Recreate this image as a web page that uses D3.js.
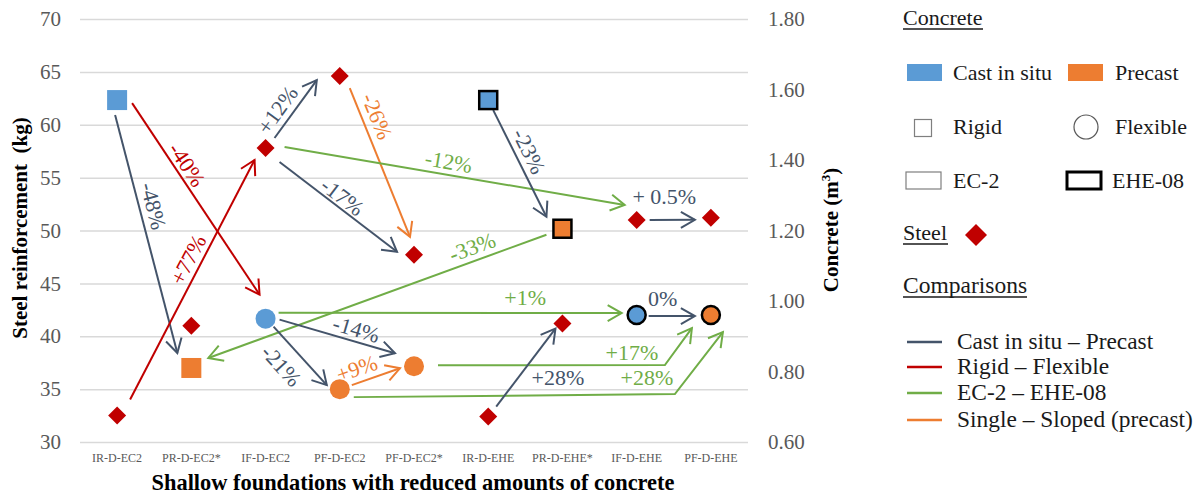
<!DOCTYPE html>
<html><head><meta charset="utf-8">
<script src="https://cdn.jsdelivr.net/npm/d3@7"></script>
</head>
<body style="margin:0">
<svg id="chart" width="1199" height="497"></svg>
<script>
// ---------- data ----------
const categories = ["IR-D-EC2","PR-D-EC2*","IF-D-EC2","PF-D-EC2","PF-D-EC2*","IR-D-EHE","PR-D-EHE*","IF-D-EHE","PF-D-EHE"];
const concrete = [1.57, 0.81, 0.95, 0.75, 0.815, 1.57, 1.205, 0.96, 0.96];   // m3 (right axis)
const steel    = [32.5, 41.0, 57.8, 64.6, 47.7, 32.4, 41.2, 51.0, 51.2];     // kg (left axis)
const construction = ["Cast in situ","Precast","Cast in situ","Precast","Precast","Cast in situ","Precast","Cast in situ","Precast"];
const footing = ["Rigid","Rigid","Flexible","Flexible","Flexible","Rigid","Rigid","Flexible","Flexible"];
const designCode = ["EC-2","EC-2","EC-2","EC-2","EC-2","EHE-08","EHE-08","EHE-08","EHE-08"];
const leftTicks = [30,35,40,45,50,55,60,65,70];
const rightTicks = [0.6,0.8,1.0,1.2,1.4,1.6,1.8];
const comparisonKinds = ["Cast in situ – Precast","Rigid – Flexible","EC-2 – EHE-08","Single – Sloped (precast)"];
// comparison arrows: c = concrete point, s = steel point (index into categories)
const comparisons = [
  {from:"c0", to:"c1", kind:0, label:"-48%"},
  {from:"c0", to:"c2", kind:1, label:"-40%"},
  {from:"s0", to:"s2", kind:1, label:"+77%"},
  {from:"s2", to:"s3", kind:0, label:"+12%"},
  {from:"s3", to:"s4", kind:3, label:"-26%"},
  {from:"s2", to:"s4", kind:0, label:"-17%"},
  {from:"s2", to:"s7", kind:2, label:"-12%"},
  {from:"c6", to:"c1", kind:2, label:"-33%"},
  {from:"c2", to:"c7", kind:2, label:"+1%"},
  {from:"c2", to:"c4", kind:0, label:"-14%"},
  {from:"c2", to:"c3", kind:0, label:"-21%"},
  {from:"c3", to:"c4", kind:3, label:"+9%"},
  {from:"c5", to:"c6", kind:0, label:"-23%"},
  {from:"s7", to:"s8", kind:0, label:"+ 0.5%"},
  {from:"c7", to:"c8", kind:0, label:"0%"},
  {from:"c4", to:"c8", kind:2, label:"+17%"},
  {from:"c3", to:"c8", kind:2, label:"+28%"},
  {from:"s5", to:"s6", kind:0, label:"+28%"}
];

// ---------- layout (pixel nudges of arrows relative to the points they link) ----------
const arrowLayout = [
  {s:[-2,15],  e:[-14,-15], lab:[7,-28]},
  {s:[15,3],   e:[-6,-24],  lab:[-9,-34]},
  {s:[13,-16], e:[-11,12],  lab:[-4,-20]},
  {s:[9,-10],  e:[-23,4],   lab:[-18,1]},
  {s:[10,12],  e:[-4,-18],  lab:[-3,-46]},
  {s:[14,14],  e:[-17,-3],  lab:[4,-10]},
  {s:[19,-1],  e:[-12,-15], lab:[-6,-14]},
  {s:[-16,6],  e:[17,-10],  lab:[95,-49]},
  {s:[13,-6],  e:[-15,-2],  lab:[75,-15], flat:true},
  {s:[14,1],   e:[-19,-13], lab:[19,-7]},
  {s:[8,8],    e:[-13,-4],  lab:[-19,10]},
  {s:[12,-4],  e:[-14,2],   lab:[-19,-8]},
  {s:[5,10],   e:[-16,-12], lab:[9,-12]},
  {s:[13,0],   e:[-16,2],   lab:[-8,-23], flat:true},
  {s:[12,1],   e:[-16,1],   lab:[-9,-17], flat:true},
  {s:[24,-1],  e:[-19,13],  via:[-46,50], lab:[-33,-12], flat:true},
  {s:[14,8],   e:[12,17],   via:[-36,79], lab:[-28,-16], flat:true},
  {s:[8,-10],  e:[-7,5],    lab:[32,10], flat:true}
];
const kindColor = ["#44546A","#C00000","#70AD47","#ED7D31"];
const constrColor = {"Cast in situ":"#5B9BD5","Precast":"#ED7D31"};
const steelColor = "#C00000";
const SERIF = "Liberation Serif";

const svg = d3.select("#chart");
const plot = {left:80, right:748, top:19, bottom:442};
const x = d3.scaleBand().domain(categories).range([plot.left, plot.right]);
const cx = c => x(c) + x.bandwidth()/2;
const yL = d3.scaleLinear().domain([30,70]).range([plot.bottom, plot.top]);
const yR = d3.scaleLinear().domain([0.6,1.8]).range([plot.bottom, plot.top]);

function fontify(sel, size){
  return sel.attr("font-family",SERIF).style("font-family",SERIF).attr("font-size",size);
}

// ---------- axes ----------
const gL = svg.append("g").attr("transform",`translate(${plot.left},0)`)
  .call(d3.axisLeft(yL).tickValues(leftTicks).tickSize(-(plot.right-plot.left)).tickPadding(19));
gL.select(".domain").remove();
gL.selectAll("line").attr("stroke","#D9D9D9").attr("stroke-width",1.5);
fontify(gL, 21); fontify(gL.selectAll("text"), 21).attr("fill","#595959");

const gR = svg.append("g").attr("transform",`translate(${plot.right},0)`)
  .call(d3.axisRight(yR).tickValues(rightTicks).tickSize(0).tickPadding(20).tickFormat(d3.format(".2f")));
gR.select(".domain").remove();
fontify(gR, 21); fontify(gR.selectAll("text"), 21).attr("fill","#595959");

const gX = svg.append("g").attr("transform",`translate(0,${plot.bottom})`)
  .call(d3.axisBottom(x).tickSize(0).tickPadding(11.5));
gX.select(".domain").remove();
fontify(gX, 12); fontify(gX.selectAll("text"), 12).attr("fill","#595959");

function txt(sel, size){ return fontify(sel.append("text"), size); }

txt(svg, 21).attr("transform","translate(27,228) rotate(-90)").attr("text-anchor","middle")
  .attr("font-weight","bold").attr("fill","#000").text("Steel reinforcement\u00a0 (kg)");
const rt = txt(svg, 21).attr("transform","translate(838,230) rotate(-90)").attr("text-anchor","middle")
  .attr("font-weight","bold").attr("fill","#000");
rt.append("tspan").text("Concrete (m");
rt.append("tspan").attr("font-size",13).attr("dy",-8).text("3");
rt.append("tspan").attr("dy",8).text(")");
txt(svg, 22.4).attr("x",413).attr("y",490).attr("text-anchor","middle")
  .attr("font-weight","bold").attr("fill","#000")
  .text("Shallow foundations with reduced amounts of concrete");

// ---------- arrows ----------
function anchor(ref){
  const t = ref[0], i = +ref.slice(1);
  return [cx(categories[i]), t === "c" ? yR(concrete[i]) : yL(steel[i])];
}
const gA = svg.append("g");
comparisons.forEach((cmp, k) => {
  const L = arrowLayout[k];
  const a = anchor(cmp.from), b = anchor(cmp.to);
  const p0 = [a[0]+L.s[0], a[1]+L.s[1]];
  const p1 = [b[0]+L.e[0], b[1]+L.e[1]];
  const pts = [p0];
  let ref;
  if (L.via) { const v = [b[0]+L.via[0], b[1]+L.via[1]]; pts.push(v); ref = v; }
  else ref = [(p0[0]+p1[0])/2, (p0[1]+p1[1])/2];
  pts.push(p1);
  const col = kindColor[cmp.kind];
  gA.append("path").attr("d", d3.line()(pts)).attr("fill","none").attr("stroke",col).attr("stroke-width",2);
  const q = pts[pts.length-2];
  const dx = p1[0]-q[0], dy = p1[1]-q[1], len = Math.hypot(dx,dy);
  const ux = dx/len, uy = dy/len, nx = -uy, ny = ux, H = 14, W = 8;
  gA.append("path").attr("d", d3.line()([[p1[0]-H*ux+W*nx, p1[1]-H*uy+W*ny], p1, [p1[0]-H*ux-W*nx, p1[1]-H*uy-W*ny]]))
    .attr("fill","none").attr("stroke",col).attr("stroke-width",2).attr("stroke-linejoin","miter");
  let ang = Math.atan2(p1[1]-p0[1], p1[0]-p0[0]) * 180/Math.PI;
  if (ang > 90) ang -= 180; if (ang < -90) ang += 180;
  if (L.flat) ang = 0;
  const lx = ref[0]+L.lab[0], ly = ref[1]+L.lab[1];
  txt(gA, 22).attr("transform",`translate(${lx},${ly}) rotate(${ang})`)
    .attr("text-anchor","middle").attr("dy","0.33em")
    .attr("fill",col).text(cmp.label);
});

// ---------- markers ----------
const gM = svg.append("g");
categories.forEach((c, i) => {
  const px = cx(c), py = yR(concrete[i]);
  const ehe = designCode[i] === "EHE-08";
  const fill = constrColor[construction[i]];
  if (footing[i] === "Rigid") {
    const s = ehe ? 18 : 20;
    gM.append("rect").attr("x",px-s/2).attr("y",py-s/2).attr("width",s).attr("height",s)
      .attr("fill",fill).attr("stroke", ehe ? "#000" : "none").attr("stroke-width", ehe ? 2.5 : 0);
  } else {
    gM.append("circle").attr("cx",px).attr("cy",py).attr("r", ehe ? 9 : 10)
      .attr("fill",fill).attr("stroke", ehe ? "#000" : "none").attr("stroke-width", ehe ? 2.5 : 0);
  }
  const sy = yL(steel[i]), d = 9;
  gM.append("path").attr("d", `M${px},${sy-d}L${px+d},${sy}L${px},${sy+d}L${px-d},${sy}Z`).attr("fill",steelColor);
});

// ---------- legend ----------
const gLeg = svg.append("g");
function ltxt(t, xx, yy, size){ return txt(gLeg, size || 22).attr("x",xx).attr("y",yy).attr("fill","#1a1a1a").text(t); }
function heading(t, xx, yy, w, size){
  ltxt(t, xx, yy, size);
  gLeg.append("line").attr("x1",xx).attr("x2",xx+w).attr("y1",yy+4).attr("y2",yy+4).attr("stroke","#1a1a1a").attr("stroke-width",1.3);
}
heading("Concrete", 903, 25, 80);
gLeg.append("rect").attr("x",907).attr("y",64).attr("width",35).attr("height",17).attr("fill",constrColor["Cast in situ"]);
ltxt("Cast in situ", 953, 80);
gLeg.append("rect").attr("x",1068).attr("y",64).attr("width",35).attr("height",17).attr("fill",constrColor["Precast"]);
ltxt("Precast", 1115, 80);
gLeg.append("rect").attr("x",914.5).attr("y",119.5).attr("width",17).attr("height",17).attr("fill","#fff").attr("stroke","#7f7f7f").attr("stroke-width",1.2);
ltxt("Rigid", 953, 134);
gLeg.append("circle").attr("cx",1086).attr("cy",127).attr("r",12).attr("fill","#fff").attr("stroke","#595959").attr("stroke-width",1.2);
ltxt("Flexible", 1115, 134);
gLeg.append("rect").attr("x",906).attr("y",172).attr("width",35).attr("height",17).attr("fill","#fff").attr("stroke","#7f7f7f").attr("stroke-width",1.2);
ltxt("EC-2", 953, 188);
gLeg.append("rect").attr("x",1067).attr("y",172).attr("width",34).attr("height",17).attr("fill","#fff").attr("stroke","#000").attr("stroke-width",3);
ltxt("EHE-08", 1112, 188);
heading("Steel", 903, 240, 45);
gLeg.append("path").attr("d","M976,224L987,235L976,246L965,235Z").attr("fill",steelColor);
heading("Comparisons", 903, 293, 124, 23.5);
comparisonKinds.forEach((k, j) => {
  const yy = [342, 367, 393, 420][j];
  gLeg.append("line").attr("x1",907).attr("x2",942).attr("y1",yy).attr("y2",yy).attr("stroke",kindColor[j]).attr("stroke-width",2.5);
  ltxt(k, 957, yy+7, 23.4);
});
</script>
</body></html>
